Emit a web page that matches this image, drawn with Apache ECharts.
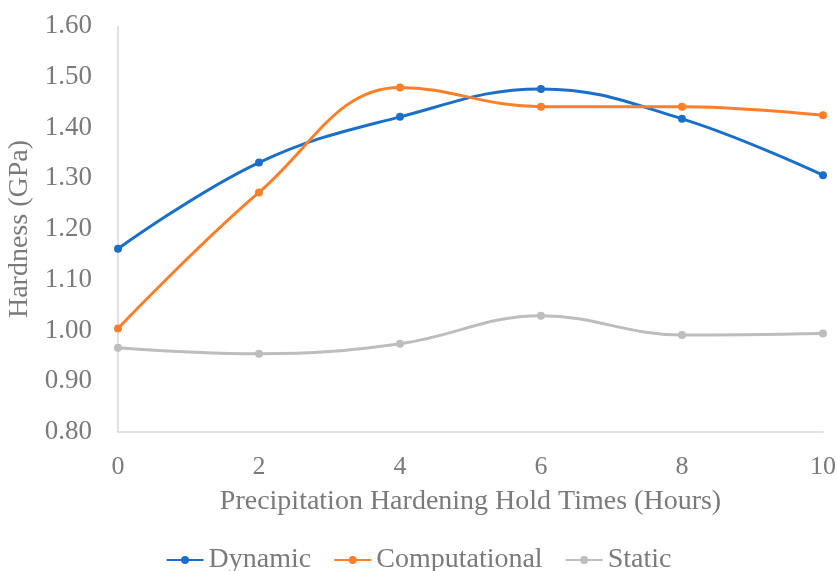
<!DOCTYPE html>
<html><head><meta charset="utf-8">
<script src="https://cdn.jsdelivr.net/npm/echarts@6/dist/echarts.min.js"></script>
<style>html,body{margin:0;padding:0;background:#fff}#c{width:837px;height:571px}</style>
</head><body><div id="c"></div>
<script>
var hours = [0, 2, 4, 6, 8, 10];
var dynamic = [1.161, 1.331, 1.421, 1.476, 1.417, 1.306];
var computational = [1.004, 1.272, 1.479, 1.441, 1.441, 1.424];
var staticVals = [0.966, 0.954, 0.974, 1.029, 0.991, 0.994];
var seriesNames = ['Dynamic', 'Computational', 'Static'];
var colors = ['#1a70c8', '#fd7f2a', '#bdbdbd'];

function pairs(ys){ return hours.map(function(h,i){ return [h, ys[i]]; }); }
var font = 'Liberation Serif, Times New Roman, serif';
var textColor = '#7a7a7a';
var chart = echarts.init(document.getElementById('c'));
chart.setOption({
  animation: false,
  color: colors,
  textStyle: {fontFamily: font},
  grid: {left: 118, right: 14, top: 26, bottom: 139, containLabel: false, outerBoundsMode: 'none'},
  legend: {
    top: 541, left: 'center', itemGap: 22, itemWidth: 37, itemHeight: 10,
    textStyle: {fontFamily: font, fontSize: 28, color: textColor},
    data: seriesNames
  },
  xAxis: {
    type: 'value', min: 0, max: 10, interval: 2,
    name: 'Precipitation Hardening Hold Times (Hours)', nameLocation: 'middle', nameGap: 56,
    nameTextStyle: {fontFamily: font, fontSize: 28, color: textColor},
    axisLine: {lineStyle: {color: '#d9d9d9', width: 1.5}},
    axisTick: {show: false}, splitLine: {show: false},
    axisLabel: {fontFamily: font, fontSize: 26, color: textColor, margin: 22}
  },
  yAxis: {
    type: 'value', min: 0.8, max: 1.6, interval: 0.1,
    name: 'Hardness (GPa)', nameLocation: 'middle', nameGap: 77,
    nameTextStyle: {fontFamily: font, fontSize: 28, color: textColor},
    axisLine: {show: true, lineStyle: {color: '#d9d9d9', width: 1.5}},
    axisTick: {show: false}, splitLine: {show: false},
    axisLabel: {fontFamily: font, fontSize: 27, color: textColor, margin: 26,
      formatter: function(v){ return v.toFixed(2); }}
  },
  series: [dynamic, computational, staticVals].map(function(d, i){
    return {
      name: seriesNames[i], type: 'line', smooth: 0.4, data: pairs(d),
      symbol: 'circle', symbolSize: 8,
      lineStyle: {width: 3, color: colors[i]},
      itemStyle: {color: colors[i]}
    };
  })
});
</script></body></html>
